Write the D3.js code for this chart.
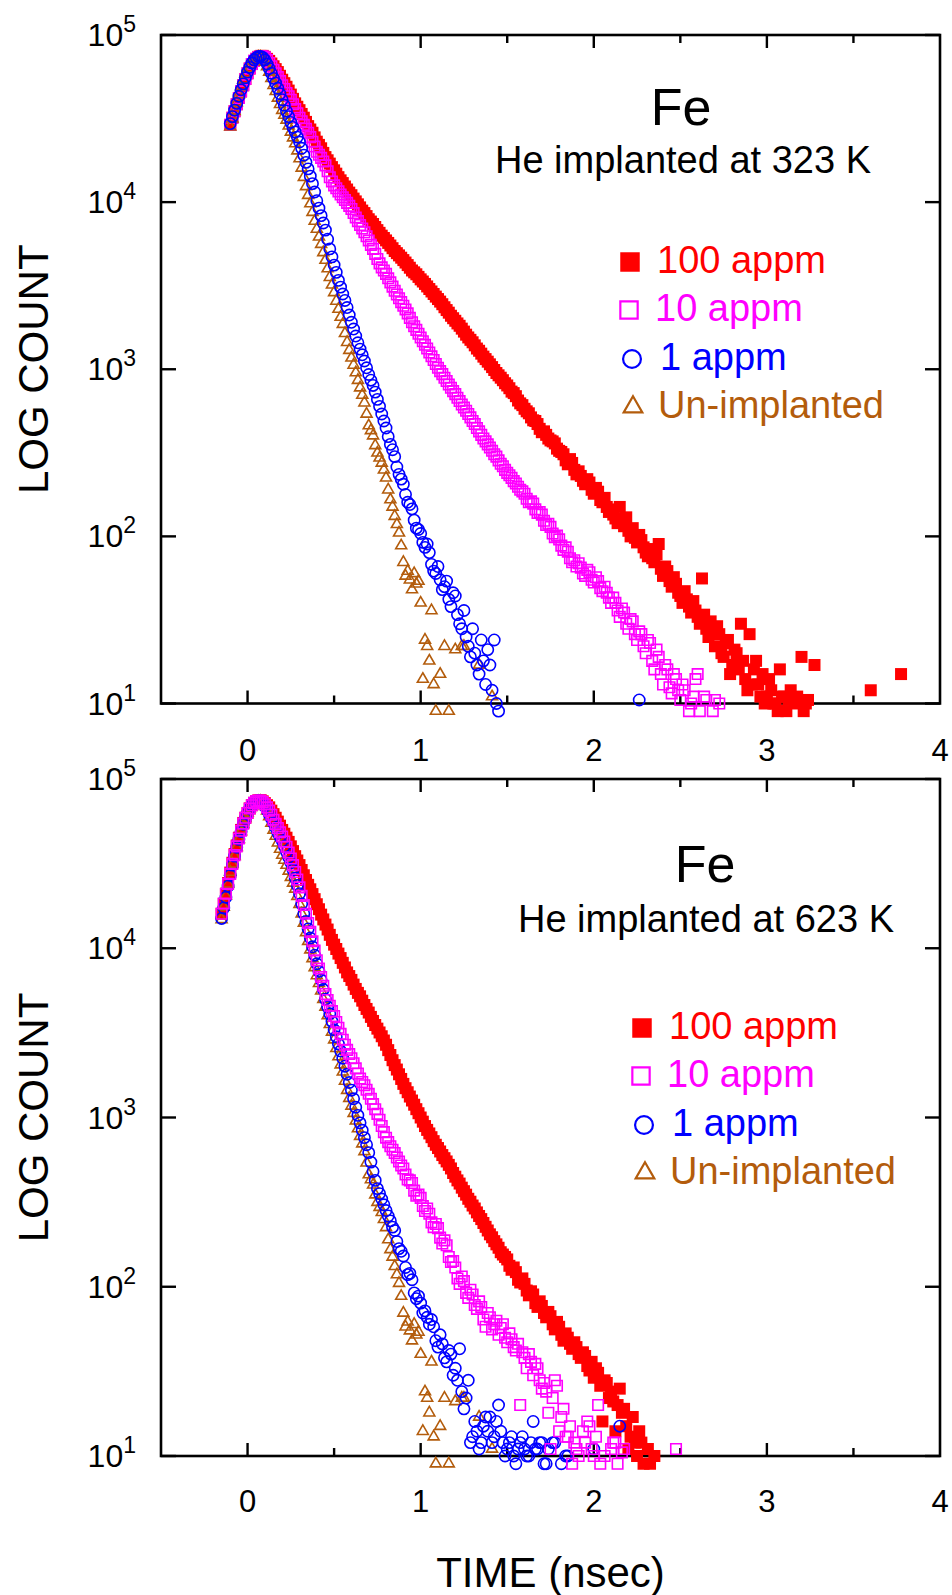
<!DOCTYPE html>
<html lang="en">
  <head>
    <meta charset="utf-8">
    <title>Fe: positron lifetime spectra</title>
    <script type="text/javascript" src="https://cdn.jsdelivr.net/npm/d3@7"></script>
    <style type="text/css">
      body { margin: 0; background: #fff; }
      svg text { font-family: "Liberation Sans", Arial, Helvetica, sans-serif; }
    </style>
  </head>
  <body>
    <script type="text/javascript">

      //Width and height
      var w = 952;
      var h = 1595;

      //Channel width (nsec) and first channel of each data set
      var step = 0.0125;
      var start323 = -0.1;
      var start623 = -0.15;

      //He implanted at 323 K, counts per channel (8 channels = 0.1 ns per row)
      var fe323_100 = [
        29000, 32000, 35000, 38500, 42000, 46000, 50000, 54500,
        59000, 63000, 67000, 70000, 72000, 74000, 75000, 75000,
        74000, 72000, 70000, 67500, 65000, 62500, 60000, 57000,
        54000, 51500, 49000, 46500, 44000, 41500, 39000, 37200,
        35500, 33700, 32000, 30200, 28500, 27200, 26000, 24400,
        23000, 22000, 21000, 19700, 18600, 17800, 17000, 16200,
        15500, 14800, 14100, 13500, 13000, 12400, 11900, 11400,
        11000, 10500, 10100, 9700, 9300, 8900, 8600, 8250,
        7900, 7650, 7400, 7100, 6800, 6550, 6300, 6100,
        5900, 5700, 5500, 5300, 5100, 4950, 4800, 4650,
        4500, 4350, 4200, 4050, 3900, 3800, 3700, 3570,
        3450, 3350, 3240, 3130, 3020, 2920, 2820, 2720,
        2630, 2540, 2450, 2350, 2260, 2180, 2090, 2020,
        1950, 1880, 1820, 1750, 1680, 1610, 1550, 1500,
        1450, 1390, 1330, 1290, 1240, 1190, 1150, 1110,
        1070, 1030, 990, 950, 920, 890, 860, 825,
        800, 770, 735, 720, 690, 650, 625, 610,
        580, 560, 545, 515, 495, 490, 470, 440,
        420, 425, 405, 385, 375, 370, 360, 335,
        325, 320, 310, 285, 270, 290, 275, 250,
        235, 245, 230, 215, 205, 220, 210, 190,
        180, 195, 185, 165, 160, 170, 150, 140,
        145, 135, 128, 120, 150, 125, 115, 130,
        108, 100, 112, 98, 92, 102, 95, 86,
        80, 76, 84, 74, 70, 78, 90, 64,
        58, 66, 62, 54, 50, 57, 52, 46,
        44, 40, 47, 42, 38, 35, 41, 36,
        33, 30, 56, 34, 28, 25, 31, 27,
        22, 29, 26, 20, 19, 23, 24, 15,
        17, 21, 20, 16, 30, 18, 14, 12,
        26, 13, 16, 18, 13, 11, 15, 10,
        11, 14, 12, 10, 10, 9, 16, 11,
        11, 9, 10.5, 12, 8, 10, 11, 7,
        19, 9, 10, 10.5, 7, 6, 17, 5,
        6, 7, 8, 5, 5, 6, 7, 4,
        6, 5, 4, 6, 5, 3, 6, 4,
        5, 3, 4, 5, 6, 4, 5, 3,
        12, 4, 4, 5, 5, 3, 3, 4,
        4, 5, 6, 3, 3, 4, 15
      ];
      var fe323_10 = [
        29000, 32000, 35000, 38500, 42000, 46000, 50000, 54500,
        59000, 63000, 67000, 70000, 72000, 73800, 74500, 74500,
        73500, 71000, 68000, 65000, 62000, 59000, 56000, 53000,
        50000, 47500, 45000, 43000, 41000, 38500, 36000, 34000,
        32000, 30500, 29000, 27500, 26000, 24500, 23000, 21500,
        20000, 19200, 18400, 17500, 16600, 15300, 14100, 13300,
        12600, 12100, 11600, 11100, 10700, 10300, 9900, 9500,
        9100, 8600, 8100, 7700, 7300, 6950, 6600, 6250,
        5900, 5550, 5250, 4900, 4570, 4300, 4070, 3900,
        3720, 3500, 3310, 3120, 2950, 2800, 2660, 2520,
        2400, 2280, 2160, 2030, 1910, 1810, 1720, 1630,
        1550, 1470, 1400, 1330, 1260, 1195, 1135, 1075,
        1020, 975, 935, 890, 850, 810, 775, 740,
        710, 675, 645, 615, 590, 565, 540, 515,
        490, 470, 445, 425, 405, 385, 370, 355,
        340, 325, 310, 300, 285, 272, 263, 250,
        240, 232, 224, 214, 207, 198, 190, 186,
        180, 168, 160, 162, 157, 145, 138, 140,
        135, 124, 117, 119, 114, 104, 99, 101,
        96, 88, 83, 86, 81, 74, 70, 72,
        66, 69, 65, 60, 58, 63, 61, 55,
        53, 57, 54, 49, 47, 50, 46, 43,
        40, 43, 40, 36, 33, 37, 35, 30,
        28, 32, 31, 26, 24, 27, 26, 22,
        20, 24, 23, 18, 16, 21, 19, 15,
        13, 17, 16, 12.5, 11.5, 15, 14, 12,
        10.5, 13, 12, 8, 9, 10, 11, 14,
        15, 9, 8, 11, 10.5, 7, 7, 9,
        10.5, 8, 10, 6, 6, 7, 7, 5,
        5
      ];
      var fe323_1 = [
        29500, 32500, 35500, 39000, 43000, 47000, 51000, 55500,
        60000, 64000, 68000, 71000, 73000, 74300, 74500, 73500,
        71000, 67000, 63000, 59000, 55000, 51500, 48000, 44500,
        41000, 38000, 35000, 32500, 30000, 28000, 26300, 24500,
        22900, 21000, 19100, 17300, 15800, 14300, 12900, 11500,
        10200, 9200, 8300, 7500, 6800, 6000, 5250, 4700,
        4200, 3800, 3400, 3100, 2820, 2580, 2340, 2110,
        1910, 1740, 1580, 1440, 1320, 1220, 1120, 1020,
        930, 860, 800, 730, 660, 600, 540, 490,
        445, 395, 355, 330, 300, 260, 235, 220,
        205, 178, 160, 155, 146, 125, 112, 110,
        104, 92, 86, 90, 80, 68, 62, 60,
        66, 55, 48, 50, 54, 42, 38, 46,
        44, 34, 30, 28, 36, 25, 22, 19,
        28, 20, 17, 15, 24, 18, 13, 21,
        17, 12, 24, 10, 9, 7, 8, 6,
        6, 5, 5, 4, 4, 6, 6, 3,
        3, 4, 4, 5, 5, 3, 3, 4,
        4, 2, 2, 3, 4, 3, 3, 4,
        5, 3, 3, 2, 4, 3, 2, 4,
        3, 2, 4, 3, 3, 4, 5, 2,
        2, 3, 3, 4, 4, 2, 2, 3,
        3, 2, 4, 3, 3, 2, 2, 4,
        4, 3, 3, 2, 3, 10.5
      ];

      //Un-implanted reference (same spectrum in both panels), starts at start623
      var unimplanted = [
        14800, 17500, 20400, 24000, 28200, 31500, 35000, 39500,
        44000, 49000, 54000, 58500, 63000, 66800, 70000, 71800,
        73000, 73800, 74000, 72000, 69000, 64800, 60000, 55000,
        50000, 46000, 42000, 38500, 35500, 33200, 31000, 28600,
        26300, 24300, 22400, 20300, 18200, 16000, 14100, 12400,
        11000, 9800, 8700, 7700, 6900, 6200, 5600, 5000,
        4500, 4000, 3550, 3200, 2880, 2560, 2290, 2050,
        1860, 1640, 1450, 1300, 1170, 1060, 955, 860,
        775, 700, 630, 540, 460, 430, 400, 350,
        316, 295, 275, 250, 224, 190, 166, 150,
        132, 118, 105, 88, 70, 58, 62, 55,
        48, 60, 52, 54, 40, 14, 24, 22,
        18, 36, 13, 9, 8, 15, 7, 22,
        6, 9, 7, 8, 21, 5, 8, 22,
        22, 6, 7, 5, 8, 4, 6, 17,
        6, 4, 5, 3, 4, 11, 4, 3,
        5
      ];

      //He implanted at 623 K, counts per channel
      var fe623_100 = [
        16000, 18300, 21000, 24300, 28000, 32000, 36000, 40500,
        45000, 50000, 55000, 59000, 63000, 67000, 70000, 72300,
        74000, 74800, 75000, 73800, 72000, 70000, 68000, 65000,
        62000, 59000, 56000, 53000, 50000, 47500, 45000, 42500,
        40000, 37500, 35000, 33000, 31000, 29000, 27000, 25300,
        23700, 22300, 20900, 19500, 18200, 17000, 15800, 14800,
        13800, 12900, 12000, 11200, 10500, 9900, 9300, 8750,
        8200, 7700, 7200, 6850, 6500, 6100, 5750, 5450,
        5200, 4900, 4620, 4380, 4170, 3930, 3720, 3520,
        3350, 3180, 3020, 2850, 2690, 2500, 2340, 2180,
        2040, 1920, 1800, 1690, 1580, 1490, 1410, 1330,
        1260, 1190, 1120, 1060, 1000, 945, 890, 845,
        805, 765, 725, 690, 660, 630, 600, 575,
        550, 525, 500, 470, 447, 425, 407, 385,
        367, 350, 331, 318, 302, 290, 275, 262,
        251, 238, 226, 215, 204, 196, 186, 178,
        170, 160, 155, 150, 145, 133, 126, 130,
        122, 110, 106, 112, 104, 95, 89, 94,
        90, 80, 76, 82, 77, 70, 66, 71,
        67, 60, 56, 62, 58, 52, 48, 53,
        50, 46, 43, 47, 44, 40, 38, 41,
        39, 34, 32, 36, 29, 33, 31, 26,
        16, 28, 27, 22, 24, 21, 14, 20,
        25, 18, 19, 15, 11, 13, 17, 12,
        10, 14, 12, 9, 8, 11, 9, 8,
        10
      ];
      var fe623_10 = [
        16000, 18400, 21000, 24000, 27500, 31500, 35500, 40000,
        44500, 49500, 54500, 59000, 63000, 67000, 70000, 72300,
        74000, 74500, 74500, 73000, 71000, 68000, 65000, 61500,
        57500, 54300, 51300, 48500, 45700, 42700, 39800, 36800,
        33900, 31000, 28200, 25500, 22900, 20400, 18000, 16000,
        14100, 12500, 11000, 9700, 8500, 7600, 6760, 6000,
        5370, 4950, 4570, 4250, 3980, 3670, 3390, 3120,
        2880, 2690, 2510, 2370, 2240, 2090, 1950, 1820,
        1700, 1620, 1550, 1460, 1380, 1290, 1200, 1120,
        1050, 970, 890, 820, 760, 715, 676, 645,
        617, 580, 550, 520, 500, 460, 430, 425,
        410, 370, 345, 350, 335, 300, 280, 290,
        270, 240, 225, 235, 222, 195, 180, 188,
        176, 150, 140, 142, 130, 112, 104, 115,
        108, 92, 86, 96, 90, 78, 74, 82,
        76, 64, 58, 70, 66, 56, 60, 63,
        52, 57, 60, 50, 47, 53, 49, 44,
        42, 46, 20, 41, 38, 33, 40, 36,
        30, 35, 33, 28, 25, 27, 24, 18,
        11, 22, 28, 26, 14, 17, 19, 13,
        13, 15, 9, 12, 11, 10, 8, 14,
        12, 16, 15, 11, 10, 13, 20, 9,
        7, 10, 6, 8, 11, 12, 12, 9,
        6, 10.5, 11, 8, 5, 6, 7, 4,
        4, 5, 6, 3, 5, 4, 3, 4,
        4, 3, 5, 4, 3, 4, 4, 3,
        5, 4, 11
      ];
      var fe623_1 = [
        15000, 17300, 20000, 23300, 27000, 31000, 35000, 39500,
        44000, 49000, 54000, 58500, 63000, 67000, 70000, 72500,
        74000, 74500, 74000, 72000, 69000, 65500, 62000, 58500,
        55000, 51500, 48000, 45500, 43000, 40000, 37000, 34500,
        32000, 29000, 26000, 23500, 21000, 18300, 16000, 14400,
        13000, 11500, 10200, 9100, 8100, 7300, 6500, 5700,
        5000, 4500, 4100, 3700, 3300, 3000, 2720, 2470,
        2240, 2010, 1800, 1610, 1450, 1290, 1150, 1030,
        930, 840, 760, 690, 620, 545, 480, 425,
        380, 355, 330, 305, 282, 262, 245, 225,
        215, 185, 168, 162, 152, 130, 118, 120,
        110, 92, 85, 88, 80, 70, 72, 66,
        60, 64, 58, 48, 44, 52, 46, 38,
        36, 42, 40, 30, 33, 28, 43, 24,
        19, 22, 28, 12, 13, 16, 14, 11,
        12, 15, 17, 14, 17, 12, 13, 16,
        20, 14, 12, 10, 11, 12, 13, 10,
        9, 11, 12, 13, 11, 10, 10, 12,
        16, 11, 11, 12, 12, 9, 9, 11,
        8, 12, 12, 8, 7, 9, 8, 10,
        10, 6, 6, 8, 7, 5, 5, 6,
        6, 4, 4, 5, 11, 6, 6, 5,
        5, 4, 4, 6, 6, 4, 5, 4,
        15, 4, 4
      ];

      //Axis ticks and labels
      var xLabels = [0, 1, 2, 3, 4];
      var yExponents = [1, 2, 3, 4, 5];
      var legendLabels = ["100 appm", "10 appm", "1 appm", "Un-implanted"];
      var colors = ["#ff0000", "#ff00ff", "#0000ff", "#b35c0c"];

      //Create scale functions
      var xScale = d3.scaleLinear()
                     .domain([-0.5, 4])
                     .range([161, 940]);

      var panels = [
        {
          top: 35, bottom: 703.5, tMin: -0.1,
          title: "Fe", sub: "He implanted at 323 K",
          titleX: 681, titleY: 125, subX: 683, subY: 173,
          tickLabelY: 761, legendDx: 0, legendDy: 0,
          //drawing order: red, magenta, brown, blue
          series: [
            { counts: fe323_100, start: start323, idx: 0 },
            { counts: fe323_10, start: start323, idx: 1 },
            { counts: unimplanted, start: start623, idx: 3 },
            { counts: fe323_1, start: start323, idx: 2 }
          ]
        },
        {
          top: 779, bottom: 1456, tMin: -0.15,
          title: "Fe", sub: "He implanted at 623 K",
          titleX: 705, titleY: 882, subX: 706, subY: 932,
          tickLabelY: 1512, legendDx: 12, legendDy: 766,
          series: [
            { counts: fe623_100, start: start623, idx: 0 },
            { counts: unimplanted, start: start623, idx: 3 },
            { counts: fe623_1, start: start623, idx: 2 },
            { counts: fe623_10, start: start623, idx: 1 }
          ]
        }
      ];

      //Marker shapes for the four sets
      var shapes = [d3.symbolSquare, d3.symbolSquare, d3.symbolCircle, d3.symbolTriangle];
      var filled = [true, false, false, false];
      var markSize = [144, 110, 100, 52];
      var legendSize = [380, 300, 250, 150];

      //Legend placement (top panel; the bottom one is shifted)
      var legendMarkX = [630, 629, 632, 633];
      var legendTextX = [657, 655, 660, 658];
      var legendBase = [273, 321, 370, 418];

      //Create SVG element
      var svg = d3.select("body")
                  .append("svg")
                  .attr("width", w)
                  .attr("height", h);

      var x0 = xScale.range()[0], x1 = xScale.range()[1];

      panels.forEach(function(p) {

        var yScale = d3.scaleLog()
                       .domain([10, 1e5])
                       .range([p.bottom, p.top]);

        var g = svg.append("g");

        //Frame
        g.append("rect")
         .attr("x", x0)
         .attr("y", p.top)
         .attr("width", x1 - x0)
         .attr("height", p.bottom - p.top)
         .attr("fill", "none")
         .attr("stroke", "#000")
         .attr("stroke-width", 2.6);

        //Y ticks, inward on both sides
        yExponents.forEach(function(e) {
          var yy = yScale(Math.pow(10, e));
          g.append("line").attr("x1", x0).attr("x2", x0 + 15).attr("y1", yy).attr("y2", yy)
           .attr("stroke", "#000").attr("stroke-width", 2.4);
          g.append("line").attr("x1", x1).attr("x2", x1 - 15).attr("y1", yy).attr("y2", yy)
           .attr("stroke", "#000").attr("stroke-width", 2.4);

          var t = g.append("text")
                   .attr("x", 136)
                   .attr("y", yy + 11)
                   .attr("text-anchor", "end")
                   .attr("font-size", 32);
          t.append("tspan").text("10");
          t.append("tspan").attr("font-size", 23).attr("dy", -14).text(e);
        });

        //X ticks, inward on top and bottom
        xScale.ticks(9).forEach(function(v) {
          if (v <= -0.5 || v >= 4) return;
          var len = Number.isInteger(v) ? 13 : 8;
          var xx = xScale(v);
          g.append("line").attr("x1", xx).attr("x2", xx).attr("y1", p.bottom).attr("y2", p.bottom - len)
           .attr("stroke", "#000").attr("stroke-width", 2.4);
          g.append("line").attr("x1", xx).attr("x2", xx).attr("y1", p.top).attr("y2", p.top + len)
           .attr("stroke", "#000").attr("stroke-width", 2.4);
        });

        //X tick labels
        g.selectAll(null)
         .data(xLabels)
         .enter()
         .append("text")
         .attr("x", function(d) { return xScale(d); })
         .attr("y", p.tickLabelY)
         .attr("text-anchor", "middle")
         .attr("font-size", 31)
         .text(function(d) { return d; });

        //Data points
        p.series.forEach(function(s) {
          var pts = s.counts.map(function(c, i) {
                      return { t: s.start + i * step, c: c };
                    })
                    .filter(function(d) { return d.c >= 9 && d.t >= p.tMin - 1e-9; });

          var sym = d3.symbol().type(shapes[s.idx]).size(markSize[s.idx]);

          g.append("g")
           .selectAll("path")
           .data(pts)
           .enter()
           .append("path")
           .attr("d", sym)
           .attr("transform", function(d) { return "translate(" + xScale(d.t) + "," + yScale(d.c) + ")"; })
           .attr("fill", filled[s.idx] ? colors[s.idx] : "none")
           .attr("stroke", filled[s.idx] ? "none" : colors[s.idx])
           .attr("stroke-width", 1.6);
        });

        //Titles
        g.append("text")
         .attr("x", p.titleX).attr("y", p.titleY)
         .attr("text-anchor", "middle")
         .attr("font-size", 52)
         .text(p.title);
        g.append("text")
         .attr("x", p.subX).attr("y", p.subY)
         .attr("text-anchor", "middle")
         .attr("font-size", 38)
         .text(p.sub);

        //Legend
        legendLabels.forEach(function(label, i) {
          var base = legendBase[i] + p.legendDy;
          g.append("path")
           .attr("d", d3.symbol().type(shapes[i]).size(legendSize[i]))
           .attr("transform", "translate(" + (legendMarkX[i] + p.legendDx) + "," + (base - 11) + ")")
           .attr("fill", filled[i] ? colors[i] : "none")
           .attr("stroke", filled[i] ? "none" : colors[i])
           .attr("stroke-width", 2.2);
          g.append("text")
           .attr("x", legendTextX[i] + p.legendDx)
           .attr("y", base)
           .attr("font-size", 38)
           .attr("fill", colors[i])
           .text(label);
        });

        //Y axis title
        g.append("text")
         .attr("transform", "translate(48," + ((p.top + p.bottom) / 2) + ") rotate(-90)")
         .attr("text-anchor", "middle")
         .attr("font-size", 42)
         .text("LOG COUNT");
      });

      //X axis title
      svg.append("text")
         .attr("x", (x0 + x1) / 2)
         .attr("y", 1587)
         .attr("text-anchor", "middle")
         .attr("font-size", 42)
         .text("TIME (nsec)");

    </script>
  </body>
</html>
